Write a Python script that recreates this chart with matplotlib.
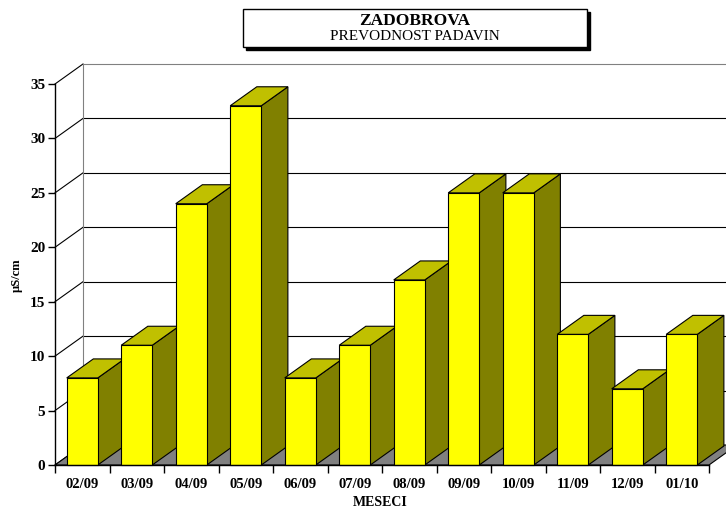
import matplotlib
matplotlib.use("Agg")
import matplotlib.pyplot as plt
from matplotlib.patches import Polygon, Rectangle

plt.rcParams['font.family'] = ['Liberation Serif', 'DejaVu Serif']

# podatki
months = ["02/09", "03/09", "04/09", "05/09", "06/09", "07/09",
          "08/09", "09/09", "10/09", "11/09", "12/09", "01/10"]
values = [8, 11, 24, 33, 8, 11, 17, 25, 25, 12, 7, 12]
y_ticks = [0, 5, 10, 15, 20, 25, 30, 35]

W, H = 726, 508
fig = plt.figure(figsize=(W / 100, H / 100), dpi=100)
ax_l, ax_r, ax_b, ax_t = 55, 709, 43, 424
ax = fig.add_axes([ax_l / W, ax_b / H, (ax_r - ax_l) / W, (ax_t - ax_b) / H])
n = len(months)
ymax = 35
ax.set_xlim(0, n)
ax.set_ylim(0, ymax)
ax.patch.set_visible(False)

# globina 3D (v pikslih -> podatkovne enote)
px_x = (ax_r - ax_l) / n
px_y = (ax_t - ax_b) / ymax
dx = 28 / px_x
dy = 20 / px_y
bdx, bdy = dx * 0.95, dy * 0.95

# stene in mreza
for k in y_ticks:
    ax.plot([0, dx], [k, k + dy], color='black', lw=0.8, clip_on=False, zorder=1)
    if k > 0:
        col = '#808080' if k == ymax else 'black'
        ax.plot([dx, n + dx + 1], [k + dy, k + dy], color=col, lw=0.8,
                clip_on=False, zorder=1)
ax.plot([dx, dx], [dy, ymax + dy], color='#808080', lw=0.8, clip_on=False, zorder=1)

# tla
floor = Polygon([(0, 0), (n, 0), (n + dx, dy), (dx, dy)], closed=True,
                facecolor='#808080', edgecolor='black', lw=0.8,
                clip_on=False, zorder=2)
ax.add_patch(floor)

# stolpci
bw = 0.57
for i, v in enumerate(values):
    x0 = i + (1 - bw) / 2
    x1 = x0 + bw
    side = Polygon([(x1, 0), (x1, v), (x1 + bdx, v + bdy), (x1 + bdx, bdy)],
                   closed=True, facecolor='#808000', edgecolor='black', lw=0.8,
                   clip_on=False, zorder=3 + i)
    top = Polygon([(x0, v), (x1, v), (x1 + bdx, v + bdy), (x0 + bdx, v + bdy)],
                  closed=True, facecolor='#C0C000', edgecolor='black', lw=0.8,
                  clip_on=False, zorder=3 + i)
    front = Rectangle((x0, 0), bw, v, facecolor='#FFFF00', edgecolor='black',
                      lw=0.8, clip_on=False, zorder=3 + i)
    ax.add_patch(side)
    ax.add_patch(top)
    ax.add_patch(front)

# osi
for s in ['top', 'right']:
    ax.spines[s].set_visible(False)
for s in ['left', 'bottom']:
    ax.spines[s].set_zorder(30)
    ax.spines[s].set_linewidth(1.0)
ax.set_yticks(y_ticks)
ax.set_yticklabels([str(t) for t in y_ticks], fontsize=11, fontweight='bold')
ax.tick_params(axis='y', direction='out', length=5, width=1, pad=2)
ax.set_xticks(range(n + 1))
ax.set_xticklabels([])
ax.set_xticks([i + 0.5 for i in range(n)], minor=True)
ax.set_xticklabels(months, minor=True, fontsize=10.5, fontweight='bold')
ax.tick_params(axis='x', which='major', direction='out', length=6, width=1)
ax.tick_params(axis='x', which='minor', length=0, pad=9)

fig.text(17 / W, 1 - 275 / H, "µS/cm", rotation=90, ha='center', va='center',
         fontsize=9, fontweight='bold')
fig.text(380 / W, 1 - 502 / H, "MESECI", ha='center', va='center',
         fontsize=10, fontweight='bold')

# naslov
bx0, by0, bx1, by1 = 243, 9, 587, 47
fig.add_artist(Rectangle(((bx0 + 3) / W, 1 - (by1 + 3) / H), (bx1 - bx0) / W,
                         (by1 - by0) / H, transform=fig.transFigure,
                         facecolor='black', edgecolor='black'))
fig.add_artist(Rectangle((bx0 / W, 1 - by1 / H), (bx1 - bx0) / W,
                         (by1 - by0) / H, transform=fig.transFigure,
                         facecolor='white', edgecolor='black', lw=1))
fig.text((bx0 + bx1) / 2 / W, 1 - 21 / H, "ZADOBROVA", ha='center', va='center',
         fontsize=12.5, fontweight='bold')
fig.text((bx0 + bx1) / 2 / W, 1 - 37 / H, "PREVODNOST PADAVIN", ha='center',
         va='center', fontsize=11)

fig.savefig("out.png", dpi=100)
